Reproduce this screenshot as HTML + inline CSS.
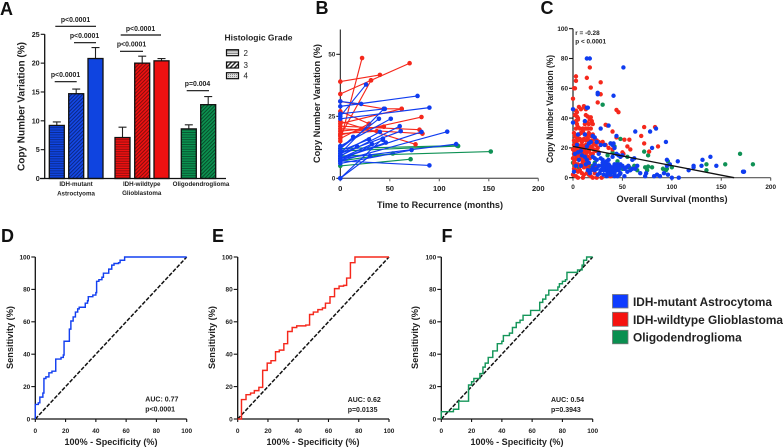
<!DOCTYPE html>
<html lang="en">
<head>
<meta charset="utf-8">
<title>Copy number variation figure</title>
<style>
html,body{margin:0;padding:0;background:#fff}
#figure{display:block;width:783px;height:448px;filter:blur(.3px)}
text{font-family:"Liberation Sans",sans-serif;font-weight:bold;fill:#222}
.pl{font-size:18px;fill:#111}
.ti{font-size:6.4px}
.pv{font-size:6.9px}
.cat{font-size:6.2px}
.auc{font-size:7px}
.ttl{font-size:9.3px}
.leg{font-size:12.2px}
</style>
</head>
<body>
<svg id="figure" xmlns="http://www.w3.org/2000/svg" width="783" height="448" viewBox="0 0 783 448">
<defs>
<pattern id="hB" width="3" height="2.4" patternUnits="userSpaceOnUse"><rect width="3" height="2.4" fill="#0f44e0"/><rect width="3" height=".9" fill="#0a2a8c"/></pattern>
<pattern id="dB" width="2.6" height="2.6" patternUnits="userSpaceOnUse" patternTransform="rotate(45)"><rect width="2.6" height="2.6" fill="#1448e6"/><rect width=".95" height="2.6" fill="#0a2680"/></pattern>
<pattern id="hR" width="3" height="2.4" patternUnits="userSpaceOnUse"><rect width="3" height="2.4" fill="#ee1111"/><rect width="3" height=".9" fill="#8c0d0d"/></pattern>
<pattern id="dR" width="2.6" height="2.6" patternUnits="userSpaceOnUse" patternTransform="rotate(45)"><rect width="2.6" height="2.6" fill="#ee1111"/><rect width=".95" height="2.6" fill="#800c0c"/></pattern>
<pattern id="hG" width="3" height="2.4" patternUnits="userSpaceOnUse"><rect width="3" height="2.4" fill="#0c9150"/><rect width="3" height=".9" fill="#075530"/></pattern>
<pattern id="dG" width="2.6" height="2.6" patternUnits="userSpaceOnUse" patternTransform="rotate(45)"><rect width="2.6" height="2.6" fill="#0c9150"/><rect width=".95" height="2.6" fill="#064a29"/></pattern>
<pattern id="hK" width="3" height="2.4" patternUnits="userSpaceOnUse"><rect width="3" height="2.4" fill="#e8e8e8"/><rect width="3" height=".9" fill="#666"/></pattern>
<pattern id="dK" width="3" height="3" patternUnits="userSpaceOnUse" patternTransform="rotate(45)"><rect width="3" height="3" fill="#fff"/><rect width="1.4" height="3" fill="#222"/></pattern>
<pattern id="cK" width="2" height="2" patternUnits="userSpaceOnUse"><rect width="2" height="2" fill="#ddd"/><rect width="1" height="1" fill="#888"/></pattern>
</defs>

<g id="panel-a"></g>
<g id="panel-b"></g>
<g id="panel-c"></g>
<g id="panel-d"></g>
<g id="panel-e"></g>
<g id="panel-f"></g>

<text class="pl" x="0" y="15">A</text>
<text class="pl" x="315.5" y="14">B</text>
<text class="pl" x="540.5" y="14">C</text>
<text class="pl" x="1" y="242">D</text>
<text class="pl" x="212" y="242">E</text>
<text class="pl" x="441.5" y="242">F</text>

<text class="ttl" transform="translate(24.5,106.5) rotate(-90)" text-anchor="middle" textLength="129" lengthAdjust="spacingAndGlyphs" style="font-size:10px">Copy Number Variation (%)</text>
<text class="cat" x="76" y="186" text-anchor="middle">IDH-mutant</text>
<text class="cat" x="76" y="195.5" text-anchor="middle">Astroctyoma</text>
<text class="cat" x="141.7" y="186" text-anchor="middle">IDH-wildtype</text>
<text class="cat" x="141.7" y="195" text-anchor="middle">Glioblastoma</text>
<text class="cat" x="201" y="186" text-anchor="middle">Oligodendroglioma</text>

<g stroke="#111" stroke-width="1.2">
<line x1="55.3" x2="96" y1="26.3" y2="26.3"/><line x1="74" x2="96" y1="42.7" y2="42.7"/><line x1="54.7" x2="76.7" y1="81.7" y2="81.7"/><line x1="120.7" x2="161" y1="35" y2="35"/><line x1="120" x2="143" y1="51.3" y2="51.3"/><line x1="186.7" x2="209" y1="90.7" y2="90.7"/>
</g>
<text class="pv" x="75.5" y="22" text-anchor="middle">p&lt;0.0001</text>
<text class="pv" x="84.5" y="38" text-anchor="middle">p&lt;0.0001</text>
<text class="pv" x="65.5" y="77" text-anchor="middle">p&lt;0.0001</text>
<text class="pv" x="140.5" y="31" text-anchor="middle">p&lt;0.0001</text>
<text class="pv" x="131.5" y="46.7" text-anchor="middle">p&lt;0.0001</text>
<text class="pv" x="197.5" y="86" text-anchor="middle">p=0.004</text>

<g>
<text x="224.5" y="40.5" font-size="8.6" textLength="68" lengthAdjust="spacingAndGlyphs">Histologic Grade</text>
<rect x="226.5" y="49.7" width="12" height="6" fill="url(#hK)" stroke="#111" stroke-width="1.2"/>
<rect x="226.5" y="62" width="12" height="6" fill="url(#dK)" stroke="#111" stroke-width="1.2"/>
<rect x="226.5" y="72.7" width="12" height="6" fill="url(#cK)" stroke="#111" stroke-width="1.2"/>
<text x="243.5" y="56" font-size="8" style="font-weight:normal">2</text>
<text x="243.5" y="68" font-size="8" style="font-weight:normal">3</text>
<text x="243.5" y="78.5" font-size="8" style="font-weight:normal">4</text>
</g>

<text class="ttl" x="440" y="208" text-anchor="middle" textLength="126" lengthAdjust="spacingAndGlyphs">Time to Recurrence (months)</text>
<text class="ttl" transform="translate(320,103.5) rotate(-90)" text-anchor="middle" textLength="119" lengthAdjust="spacingAndGlyphs">Copy Number Variation (%)</text>

<text class="ttl" x="672" y="202" text-anchor="middle" textLength="111" lengthAdjust="spacingAndGlyphs">Overall Survival (months)</text>
<text class="ttl" transform="translate(553,109) rotate(-90)" text-anchor="middle" textLength="108" lengthAdjust="spacingAndGlyphs">Copy Number Variation (%)</text>
<text class="ti" x="575.3" y="35">r = -0.28</text>
<text class="ti" x="575.3" y="43.7">p &lt; 0.0001</text>

<text class="ttl" x="111" y="445" text-anchor="middle" textLength="93" lengthAdjust="spacingAndGlyphs">100% - Specificity (%)</text>
<text class="ttl" transform="translate(13,337.5) rotate(-90)" text-anchor="middle" textLength="63" lengthAdjust="spacingAndGlyphs">Sensitivity (%)</text>
<text class="auc" x="145.3" y="401.7">AUC: 0.77</text>
<text class="auc" x="145.3" y="411.7">p&lt;0.0001</text>

<text class="ttl" x="313" y="445" text-anchor="middle" textLength="93" lengthAdjust="spacingAndGlyphs">100% - Specificity (%)</text>
<text class="ttl" transform="translate(215,337.5) rotate(-90)" text-anchor="middle" textLength="63" lengthAdjust="spacingAndGlyphs">Sensitivity (%)</text>
<text class="auc" x="347.7" y="402">AUC: 0.62</text>
<text class="auc" x="347.7" y="412">p=0.0135</text>

<text class="ttl" x="517" y="445" text-anchor="middle" textLength="93" lengthAdjust="spacingAndGlyphs">100% - Specificity (%)</text>
<text class="ttl" transform="translate(418,337.5) rotate(-90)" text-anchor="middle" textLength="63" lengthAdjust="spacingAndGlyphs">Sensitivity (%)</text>
<text class="auc" x="551" y="402">AUC: 0.54</text>
<text class="auc" x="551" y="412">p=0.3943</text>

<g>
<rect x="612.5" y="294.5" width="15.5" height="13.5" fill="#0f3cff" stroke="#777" stroke-width=".8"/>
<rect x="612.5" y="312.3" width="15.5" height="14" fill="#f5120f" stroke="#777" stroke-width=".8"/>
<rect x="612.5" y="330.3" width="15.5" height="13.5" fill="#0a8f50" stroke="#777" stroke-width=".8"/>
<text class="leg" x="633" y="306" textLength="139" lengthAdjust="spacingAndGlyphs">IDH-mutant Astrocytoma</text>
<text class="leg" x="633" y="324" textLength="150" lengthAdjust="spacingAndGlyphs">IDH-wildtype Glioblastoma</text>
<text class="leg" x="633" y="341.7" textLength="108.7" lengthAdjust="spacingAndGlyphs">Oligodendroglioma</text>
</g>
</svg>

<script>
/* ---------- Panel A data ---------- */
var barTicks = [0, 5, 10, 15, 20, 25];
var barMeans = [9.2, 14.7, 20.8, 7.1, 20, 20.4, 8.6, 12.8];
var barUppers = [9.8, 15.5, 22.7, 8.9, 21.2, 20.8, 9.3, 14.2];
var barFills = ['url(#hB)', 'url(#dB)', '#0f44e0', 'url(#hR)', 'url(#dR)', '#ee1111', 'url(#hG)', 'url(#dG)'];

/* ---------- Panel B data: [months, cnv] series per patient ---------- */
var recurrenceXTicks = [0, 50, 100, 150, 200];
var recurrenceYTicks = [0, 25, 50];
var greenPatients = [[[0,11],[119,13]],[[0,9],[152,10.8]],[[0,7],[53,10]],[[0,5],[71,7.7]],[[0,12],[118,13.2]]];
var redPatients = [[[0,39],[40,41.7]],[[0,34],[31,39.5],[70,46.4]],[[0,15],[22,48.5]],[[0,17],[31,39.5]],[[0,31],[44,28],[62,28]],[[0,17.5],[82,24.7]],[[0,27],[29,22]],[[0,21],[80,19.6]],[[0,20],[83,18]],[[0,23],[76,13.7]],[[0,19],[44,20.8]],[[0,18],[37,19]],[[0,22],[62,28]],[[0,16],[29,22]]];
var bluePatients = [[[0,25],[26,37.8]],[[0,31],[21,30]],[[0,29],[78,33.2]],[[0,24],[90,28.5]],[[0,10],[44,28]],[[0,12],[39,24]],[[0,13],[51,24]],[[0,9],[60,21]],[[0,10],[61,19]],[[0,8],[82,18.7]],[[0,7],[108,18.8]],[[0,8],[117,13.8]],[[0,6],[72,11.4]],[[0,7],[90,5.2]],[[0,12],[13,16.7]],[[0,9],[17,12.8]],[[0,11],[29,15.7]],[[0,8],[32,13.8]],[[0,10],[40,18.7]],[[0,7],[43,15.5]],[[0,8],[46,14.4]],[[0,0],[30,9]],[[0,0],[43,16]],[[0,26],[45,28]]];

/* ---------- Panel C data: [survival months, cnv] ---------- */
var survivalXTicks = [0, 50, 100, 150, 200];
var survivalYTicks = [0, 20, 40, 60, 80, 100];
var fitLine = [[0,21],[163,0]];
var greenScatter = [[30,49],[48,26],[42,21],[38,23],[40,17],[55,14],[52,6],[57,7],[62,8],[72,17.5],[76,15],[73,7],[76,7.5],[80,7],[75,5],[91,6],[95,6],[94,5],[96,11],[135,5],[154,9],[169,16],[182,9],[135,9],[100,7],[45,11],[30,8],[20,8],[16,7],[0,10],[3,9],[6,7],[22,10],[50,6],[65,5],[35,15]];
var blueScatter = [[14,80],[17,80],[51,74],[25,57],[25,56],[41,55],[0,46],[14,47],[15,47],[0,37],[12,38],[36,35],[28,33],[84,33],[78,31],[63,31],[44,28],[94,24],[80,20],[95,12],[106,11],[98,9],[95,8],[131,12],[139,14],[130,8],[145,8],[122,8],[122,7],[117,5],[172,4],[173,4],[100,0],[107,0],[96,2],[92,3],[88,1],[85,2],[82,1],[74,3],[73,1],[65,8],[63,6],[60,6],[58,5],[55,4],[48,3],[52,1],[46,5],[44,8],[42,9],[40,7],[38,6],[36,9],[34,8],[32,7],[30,6],[28,5],[26,8],[24,6],[22,9],[20,7],[18,5],[16,10],[14,12],[12,14],[8,18],[4,22],[2,16],[6,12],[8,8],[3,8],[1,4],[20,14],[22,13],[24,12],[26,16],[28,13],[30,12],[32,10],[34,6],[36,4],[38,3],[40,5],[42,3],[44,5],[46,7],[48,9],[50,8],[52,6],[54,7],[56,8],[44,16],[46,15],[48,14],[42,20],[40,22],[38,23],[41,23],[32,22],[28,22],[24,24],[22,27],[20,28],[18,24],[16,23],[14,21],[12,29],[5,29],[5,17],[9,15],[13,9],[15,5],[17,3],[50,15],[60,12],[62,13],[34,11],[30,10],[36,12],[40,14],[38,2],[31,2],[34,1],[42,1],[45,1],[47,2],[27,3],[25,2],[22,5],[68,3],[33,5],[35,7],[37,8],[39,4],[41,6],[43,7],[45,9],[47,6],[29,8],[31,5],[35,3],[37,6]];
var redScatter = [[17,74],[3,68],[3,65],[14,67],[28,64],[1,60],[2,60],[18,60.5],[28,56],[25,50.5],[0,53],[44,45.5],[46,44],[6,47.5],[8,46],[11,48],[12,47],[13,46],[3,45],[4,44],[2,42],[4,41],[5,40],[3,38],[5,39],[13,42],[15,41],[18,40.5],[17,39],[19,38],[12,36],[14,37],[16,36],[20,36],[4,36],[5,34],[3,33],[7,33],[10,33],[13,33],[15,33],[18,33],[33,35.5],[35,35],[40,31],[72,34],[83,34],[69,28],[72,23],[86,21],[57,25.5],[52,25.5],[44,27],[55,21],[58,19],[50,17],[51,16],[77,17.5],[1,30],[2,28],[4,27],[6,29],[8,30],[10,31],[12,29],[14,28],[16,30],[18,28],[20,29],[22,26],[24,25],[26,24],[30,24],[33,22],[28,22],[36,20],[40,19],[1,25],[3,24],[5,25],[7,26],[9,24],[11,26],[13,25],[15,26],[17,24],[19,25],[21,23],[23,22],[25,20],[1,22],[3,21],[5,22],[7,21],[9,22],[11,20],[13,22],[15,21],[17,20],[19,21],[21,19],[23,18],[26,17],[0,19],[2,18],[4,19],[6,18],[8,19],[10,17],[12,18],[14,17],[16,18],[18,16],[20,16],[1,16],[3,15],[5,16],[7,15],[9,16],[11,14],[13,15],[15,14],[17,13],[0,13],[2,12],[4,13],[6,12],[8,13],[10,11],[12,12],[14,10],[16,9],[1,10],[3,9],[5,9],[7,8],[9,9],[11,7],[13,8],[15,6],[17,5],[19,6],[21,5],[23,7],[1,6],[3,5],[5,4],[7,5],[9,3],[11,2],[0,2],[3,1],[5,0],[10,0],[14,3],[16,2],[18,1],[20,0],[22,3],[24,0],[29,0],[38,1]];

/* ---------- ROC data: after each [fpr, tpr] the curve steps right, then up ---------- */
var rocTicks = [0, 20, 40, 60, 80, 100];
var rocD = [[0,9],[2,10],[3,13.5],[5,16],[5.7,25],[7,26],[9,28.5],[11,29.5],[13.5,37],[17,38],[18.5,39.5],[19,48],[22.5,55.5],[23.5,60.5],[25,63],[26.5,66],[28,68],[29,69],[33,71.5],[34.5,73],[35,75.5],[38,76.5],[40,78],[40.5,85],[42,86],[44,87.5],[45,90],[48.5,92.5],[50.5,95],[52,96],[55,96.5],[56,98],[59,100],[100,100]];
var rocE = [[2.5,12],[5.5,15],[8.5,16],[11,17.5],[14,19.5],[16.5,30],[19.5,34.5],[22,36],[25,41.5],[27.5,42.5],[30.5,46.5],[33,54],[36,56.5],[39,57.5],[45,58],[47.5,64.5],[50,66],[53,67.5],[56,68.5],[58,71.5],[61,75.5],[64,80.5],[67,82],[70,82.5],[72,87],[74.5,96.5],[77.5,100],[100,100]];
var rocF = [[0,4.5],[8,6],[11.5,11],[18,21],[20,23],[21.5,25],[25.5,28],[27.5,32],[29,34.5],[31,38],[34,42],[37,46.5],[40,48],[41,51.5],[45,53],[47,56.5],[49.5,59.5],[52,61],[54,64],[59,67],[65,72],[67,74],[69,76.5],[71,79.5],[77,81.5],[78,83.5],[80,85],[82,86],[83,90.5],[90,92],[93,95],[94,98],[96,100],[100,100]];

var NS = 'http://www.w3.org/2000/svg';
function mk(parent, tag, attrs) {
  var el = document.createElementNS(NS, tag);
  for (var k in attrs) { el.setAttribute(k, attrs[k]); }
  parent.appendChild(el);
  return el;
}
function linear(d0, d1, r0, r1) {
  return function (v) { return r0 + (v - d0) * (r1 - r0) / (d1 - d0); };
}

function drawXAxis(g, sx, y0, ticks, x0, x1, size, labelY, col, width) {
  var axis = mk(g, 'line', {x1: x0, x2: x1, y1: y0, y2: y0, stroke: col, 'stroke-width': width});
  
  
  ticks.forEach(function (t) {
    var tk = mk(g, 'line', {x1: sx(t), x2: sx(t), y1: y0, y2: y0 + 3, stroke: col, 'stroke-width': Math.min(width, 1.1)});
    
    
    var lb = mk(g, 'text', {x: sx(t), y: labelY, 'text-anchor': 'middle', 'font-size': size});
    
    
    lb.textContent = t;
  });
}
function drawYAxis(g, sy, x0, ticks, y0, y1, size, width) {
  var axis = mk(g, 'line', {x1: x0, x2: x0, y1: y0, y2: y1, stroke: '#111', 'stroke-width': width});
  
  
  ticks.forEach(function (t) {
    var tk = mk(g, 'line', {x1: x0 - 4, x2: x0, y1: sy(t), y2: sy(t), stroke: '#111', 'stroke-width': Math.min(width, 1.1)});
    
    
    var lb = mk(g, 'text', {x: x0 - 5, y: sy(t) + size * 0.35, 'text-anchor': 'end', 'font-size': size});
    
    
    lb.textContent = t;
  });
}

/* Panel A */
(function () {
  var g = document.getElementById('panel-a');
  var sy = linear(0, 25, 178.5, 34.3);
  var slotLefts = [49.3, 68.7, 88, 115, 134.7, 154, 181.3, 200.7];
  barMeans.forEach(function (v, i) {
    var x = slotLefts[i], w = 15, cx = x + w / 2;
    var err = mk(g, 'path', {d: 'M' + cx + ' ' + sy(v) + 'V' + sy(barUppers[i]) + 'M' + (cx - 4) + ' ' + sy(barUppers[i]) + 'H' + (cx + 4), stroke: '#222', 'stroke-width': 1.1, fill: 'none'});
    
    
    var r = mk(g, 'rect', {x: x, y: sy(v), width: w, height: sy(0) - sy(v), fill: barFills[i], stroke: '#111', 'stroke-width': 1.3});
    
    
  });
  var base = mk(g, 'line', {x1: 40, x2: 226, y1: sy(0), y2: sy(0), stroke: '#111', 'stroke-width': 1.3});
  
  
  drawYAxis(g, sy, 44.7, barTicks, sy(25), sy(0), 7.2, 1.3);
})();

/* Panel B */
(function () {
  var g = document.getElementById('panel-b');
  var sx = linear(0, 200, 340.3, 538.3);
  var sy = linear(0, 50, 178.3, 54.3);
  drawXAxis(g, sx, sy(0), recurrenceXTicks, sx(0), sx(200), 7.6, 191, '#666', 1.3);
  drawYAxis(g, sy, sx(0), recurrenceYTicks, sy(60), sy(0), 6.2, 1);
  [[greenPatients, '#0f9155', 'green'], [redPatients, '#f5281c', 'red'], [bluePatients, '#0f3cf0', 'blue']].forEach(function (set) {
    set[0].forEach(function (pts) {
      var line = mk(g, 'polyline', {points: pts.map(function (p) { return sx(p[0]) + ',' + sy(p[1]); }).join(' '), fill: 'none', stroke: set[1], 'stroke-width': 1.15});
      
      
      pts.forEach(function (p) {
        var d = mk(g, 'circle', {cx: sx(p[0]), cy: sy(p[1]), r: 2.3, fill: set[1]});
        
        
      });
    });
  });
})();

/* Panel C: green first, then red, then blue on top */
(function () {
  var g = document.getElementById('panel-c');
  var sx = linear(0, 200, 573, 770.7);
  var sy = linear(0, 100, 177.7, 28.7);
  drawXAxis(g, sx, sy(0), survivalXTicks, sx(0), sx(200), 6.4, 189, '#555', 1.1);
  drawYAxis(g, sy, sx(0), survivalYTicks, sy(100), sy(0), 6.4, 1.1);
  [[greenScatter, '#0f9155'], [redScatter, '#f5281c'], [blueScatter, '#0f3cf0']].forEach(function (set) {
    set[0].forEach(function (p) {
      var d = mk(g, 'circle', {cx: sx(p[0]), cy: sy(p[1]), r: 2.2, fill: set[1]});
      
      
    });
  });
  var fit = mk(g, 'line', {x1: sx(fitLine[0][0]), y1: sy(fitLine[0][1]), x2: sx(fitLine[1][0]), y2: sy(fitLine[1][1]), stroke: '#111', 'stroke-width': 1.3});
  
  
})();

/* ROC panels */
function drawRoc(id, data, x0, x1, color) {
  var g = document.getElementById(id);
  var sx = linear(0, 100, x0, x1);
  var sy = linear(0, 100, 419, 257);
  drawXAxis(g, sx, sy(0), rocTicks, sx(0), sx(100), 6.5, 432.8, '#111', 1.3);
  drawYAxis(g, sy, sx(0), rocTicks, sy(100), sy(0), 6.5, 1.3);
  var diag = mk(g, 'line', {x1: sx(0), y1: sy(0), x2: sx(100), y2: sy(100), stroke: '#111', 'stroke-width': 1.5, 'stroke-dasharray': '4 1.6'});
  
  
  var d = 'M' + sx(0) + ' ' + sy(0);
  data.forEach(function (p) { d += 'H' + sx(p[0]) + 'V' + sy(p[1]); });
  var curve = mk(g, 'path', {d: d, fill: 'none', stroke: color, 'stroke-width': 1.45});
  
  
}
drawRoc('panel-d', rocD, 35.3, 186.7, '#1440f0');
drawRoc('panel-e', rocE, 237.7, 389, '#f5281c');
drawRoc('panel-f', rocF, 441.3, 592.7, '#15965a');
</script>
</body>
</html>
